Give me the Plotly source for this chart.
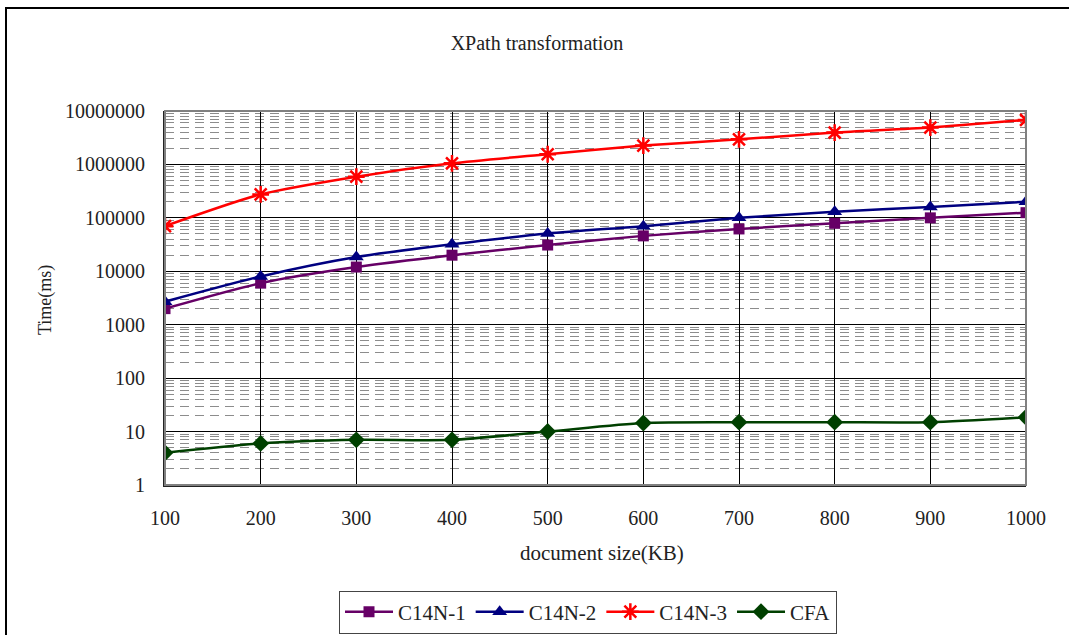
import plotly.graph_objects as go

sizes = [100, 200, 300, 400, 500, 600, 700, 800, 900, 1000]
c14n_1 = [2000, 6000, 12000, 20000, 31000, 46000, 62000, 79000, 100000, 125000]
c14n_2 = [2700, 8000, 18500, 32000, 51000, 70000, 100000, 130000, 160000, 200000]
c14n_3 = [70000, 275000, 590000, 1050000, 1550000, 2250000, 2950000, 3950000, 4900000, 6800000]
cfa = [4, 6, 7, 7, 10, 14.5, 15, 15, 15, 18.5]

y_tickvals = [1, 10, 100, 1000, 10000, 100000, 1000000, 10000000]
y_ticktext = ["1", "10", "100", "1000", "10000", "100000", "1000000", "10000000"]
x_tickvals = sizes
x_ticktext = [str(s) for s in sizes]

FONT = "Liberation Serif"
W, H = 1069, 635
L, R, T, B = 165, 1026, 111, 485

series = [
    ("C14N-1", c14n_1, "#660066", "square", 11),
    ("C14N-2", c14n_2, "#000080", "triangle-up", 13),
    ("C14N-3", c14n_3, "#FF0000", "asterisk-open", 14),
    ("CFA", cfa, "#004000", "diamond", 13),
]

fig = go.Figure()
for name, vals, color, sym, sz in series:
    fig.add_trace(go.Scatter(
        x=sizes, y=vals, name=name, mode="lines+markers",
        line=dict(color=color, width=2.5, shape="spline", smoothing=0.7),
        marker=dict(symbol=sym, size=sz, color=color,
                    line=dict(color=color, width=2.5 if sym == "asterisk-open" else 0)),
    ))

def px_x(p):
    return (p - L) / (R - L)

def px_y(p):
    return (B - p) / (B - T)

fig.update_layout(
    width=W, height=H,
    margin=dict(l=L, r=W - R, t=T, b=H - B, pad=0, autoexpand=False),
    paper_bgcolor="white", plot_bgcolor="white",
    font=dict(family=FONT, size=20, color="#222222"),
    title=dict(text="XPath transformation", x=px_x(537), xref="paper",
               y=1 - 43 / H, yref="container", xanchor="center", yanchor="middle",
               font=dict(family=FONT, size=20, color="#222222")),
    showlegend=True,
    legend=dict(orientation="h", x=px_x(588), y=1 - 612 / H, xref="paper", yref="container",
                xanchor="center", yanchor="middle",
                bordercolor="#444444", borderwidth=1, bgcolor="white",
                font=dict(family=FONT, size=21, color="#222222"),
                itemwidth=48, tracegroupgap=0),
    xaxis=dict(range=[100, 1000], tickvals=x_tickvals, ticktext=x_ticktext,
               showgrid=True, gridcolor="black", gridwidth=1,
               showline=True, linecolor="#222222", linewidth=2,
               ticks="", ticklabelstandoff=14, zeroline=False,
               tickfont=dict(family=FONT, size=20, color="#222222")),
    yaxis=dict(type="log", range=[0, 7], tickvals=y_tickvals, ticktext=y_ticktext,
               showgrid=True, gridcolor="black", gridwidth=1,
               showline=True, linecolor="#222222", linewidth=2,
               ticks="", ticklabelstandoff=14, zeroline=False,
               tickfont=dict(family=FONT, size=20, color="#222222"),
               minor=dict(dtick="D1", showgrid=True, gridcolor="#8c8c8c",
                          griddash="9px,6px", gridwidth=1, ticks="")),
    annotations=[
        dict(text="Time(ms)", textangle=-90, x=px_x(45), y=px_y(300),
             xref="paper", yref="paper", showarrow=False,
             xanchor="center", yanchor="middle",
             font=dict(family=FONT, size=18, color="#222222")),
        dict(text="document size(KB)", x=px_x(602), y=px_y(553),
             xref="paper", yref="paper", showarrow=False,
             xanchor="center", yanchor="middle",
             font=dict(family=FONT, size=21, color="#222222")),
    ],
    shapes=[
        dict(type="rect", xref="paper", yref="paper", x0=0, x1=1, y0=0, y1=1,
             line=dict(color="#808080", width=2), layer="above"),
        dict(type="rect", xref="paper", yref="paper",
             x0=px_x(6), x1=px_x(1080), y0=px_y(645), y1=px_y(8),
             line=dict(color="black", width=2), layer="below"),
    ],
)

fig.write_html("out.html", config={"displayModeBar": False},
               post_script="document.body.style.margin='0';")
